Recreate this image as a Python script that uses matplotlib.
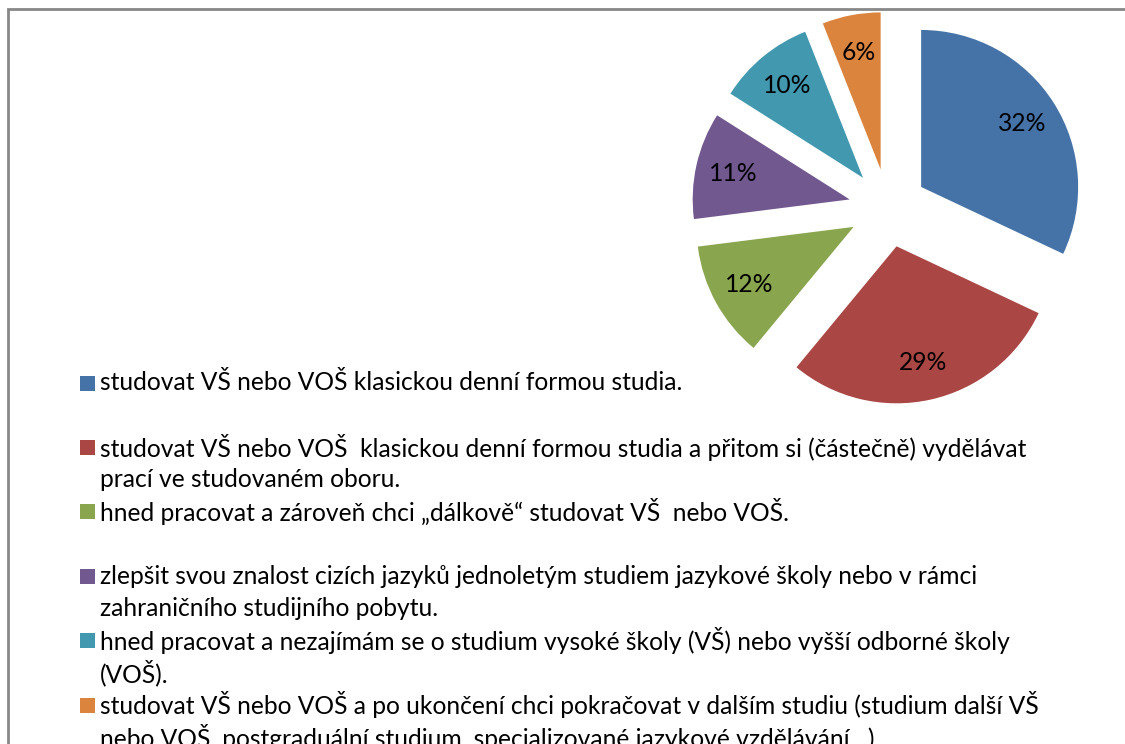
import matplotlib
matplotlib.use("Agg")
import matplotlib.pyplot as plt
from matplotlib.patches import Rectangle

# ---- data ----
values = [32, 29, 12, 11, 10, 6]
colors = ["#4573A7", "#AA4644", "#89A54E", "#71588F", "#4198AF", "#DB843D"]
legend_lines = [
    ["studovat VŠ nebo VOŠ klasickou denní formou studia."],
    ["studovat VŠ nebo VOŠ  klasickou denní formou studia a přitom si (částečně) vydělávat",
     "prací ve studovaném oboru."],
    ["hned pracovat a zároveň chci „dálkově“ studovat VŠ  nebo VOŠ."],
    ["zlepšit svou znalost cizích jazyků jednoletým studiem jazykové školy nebo v rámci",
     "zahraničního studijního pobytu."],
    ["hned pracovat a nezajímám se o studium vysoké školy (VŠ) nebo vyšší odborné školy",
     "(VOŠ)."],
    ["studovat VŠ nebo VOŠ a po ukončení chci pokračovat v dalším studiu (studium další VŠ",
     "nebo VOŠ, postgraduální studium, specializované jazykové vzdělávání…)."],
]
gap_after = [1, 0, 1, 0, 0, 0]

W, H = 1125, 744
FONT = "Lato"
FS = 17.7
plt.rcParams["font.family"] = [FONT, "DejaVu Sans"]

fig = plt.figure(figsize=(W / 100, H / 100), dpi=100)

# border
fig.patches.append(Rectangle((8 / W, -0.1), 1.2, (H - 9) / H + 0.1,
                             transform=fig.transFigure, fill=False,
                             edgecolor="#878787", lw=2))

# pie
R = 157.0
cx, cy = 888, 208
half = 1.3 * R
ax = fig.add_axes([(cx - half) / W, (H - cy - half) / H, 2 * half / W, 2 * half / H])
wedges, texts, autotexts = ax.pie(
    values, colors=colors, startangle=90, counterclock=False,
    explode=[0.25] * len(values), radius=1.0,
    autopct=lambda p: f"{p:.0f}%", pctdistance=0.76,
    textprops=dict(fontsize=FS, color="black"),
)
for w in wedges:
    w.set_clip_on(False)
ax.set_xlim(-1.3, 1.3)
ax.set_ylim(-1.3, 1.3)
ax.set_aspect("equal")
ax.axis("off")

# legend (manual)
y0 = 383.0
pitch = 32.2
k = 0
for i, lines in enumerate(legend_lines):
    yk = y0 + k * pitch
    fig.patches.append(Rectangle((80 / W, 1 - (yk + 7.5) / H), 15 / W, 15 / H,
                                 transform=fig.transFigure, facecolor=colors[i],
                                 edgecolor="none"))
    for j, ln in enumerate(lines):
        fig.text(100 / W, 1 - (y0 + k * pitch) / H, ln, fontsize=FS,
                 va="center", ha="left", color="black")
        k += 1
    k += gap_after[i]

fig.savefig("out.png", dpi=100)
